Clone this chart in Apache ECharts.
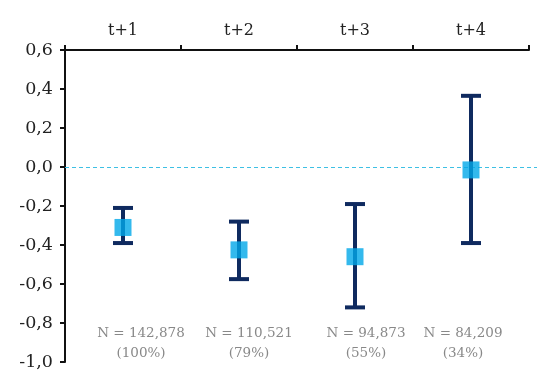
<!DOCTYPE html>
<html>
<head>
<meta charset="utf-8">
<script src="https://cdn.jsdelivr.net/npm/echarts@6/dist/echarts.min.js"></script>
<style>html,body{margin:0;padding:0;background:#fff}#c{width:560px;height:389px}</style>
</head>
<body>
<div id="c"></div>
<script>
var categories = ['t+1', 't+2', 't+3', 't+4'];
var means = [-0.31, -0.425, -0.46, -0.015];
var upper = [-0.21, -0.28, -0.19, 0.365];
var lower = [-0.39, -0.575, -0.72, -0.39];
var nLabels = ['N = 142,878', 'N = 110,521', 'N = 94,873', 'N = 84,209'];
var pctLabels = ['(100%)', '(79%)', '(55%)', '(34%)'];
var labelY = -0.905;
var labelShift = [18, 10, 11, -8];
var refValue = 0;

var font = 'DejaVu Serif';
var chart = echarts.init(document.getElementById('c'));
chart.setOption({
  animation: false,
  backgroundColor: '#fff',
  grid: { left: 65, right: 31, top: 50, bottom: 27 },
  xAxis: {
    type: 'category', position: 'top', data: categories,
    axisLine: { onZero: false, lineStyle: { color: '#111', width: 2 } },
    axisTick: { show: true, length: 5, lineStyle: { color: '#111', width: 2 } },
    axisLabel: { fontFamily: font, fontSize: 16, color: '#222', margin: 11 },
    splitLine: { show: false }
  },
  yAxis: {
    type: 'value', min: -1, max: 0.6, interval: 0.2,
    axisLine: { show: true, onZero: false, lineStyle: { color: '#111', width: 2 } },
    axisTick: { show: true, length: 5, lineStyle: { color: '#111', width: 2 } },
    axisLabel: { fontFamily: font, fontSize: 17.5, color: '#222', margin: 12,
      formatter: function (v) { return (Math.round(v * 10) / 10).toFixed(1).replace('.', ','); } },
    splitLine: { show: false }
  },
  series: [
    {
      type: 'custom',
      data: [[0, refValue]],
      renderItem: function (params, api) {
        var p = api.coord([0, api.value(1)]);
        var cs = params.coordSys;
        return { type: 'line', shape: { x1: cs.x, y1: Math.round(p[1]) + 0.5, x2: cs.x + cs.width + 8, y2: Math.round(p[1]) + 0.5 },
          style: { stroke: '#3ec0e4', lineWidth: 1, lineDash: [4, 3] } };
      },
      silent: true,
      z: 1
    },
    {
      type: 'custom',
      data: categories.map(function (c, i) { return [i, lower[i], upper[i]]; }),
      renderItem: function (params, api) {
        var lo = api.coord([api.value(0), api.value(1)]);
        var hi = api.coord([api.value(0), api.value(2)]);
        var w = 10;
        var st = { stroke: '#0f2a5f', lineWidth: 4 };
        return { type: 'group', children: [
          { type: 'line', shape: { x1: lo[0], y1: lo[1], x2: hi[0], y2: hi[1] }, style: st },
          { type: 'line', shape: { x1: lo[0] - w, y1: lo[1], x2: lo[0] + w, y2: lo[1] }, style: st },
          { type: 'line', shape: { x1: hi[0] - w, y1: hi[1], x2: hi[0] + w, y2: hi[1] }, style: st }
        ] };
      },
      z: 2
    },
    {
      type: 'scatter',
      data: means.map(function (m, i) { return [i, m]; }),
      symbol: 'rect', symbolSize: 17,
      itemStyle: { color: '#00a8e8' },
      z: 3
    },
    {
      type: 'scatter',
      symbolSize: 0,
      silent: true,
      data: categories.map(function (c, i) {
        return { value: [i, labelY], label: { offset: [labelShift[i], 0] } };
      }),
      label: {
        show: true, position: 'inside',
        fontFamily: font, fontSize: 13.5, color: '#6a6a6a', lineHeight: 20, align: 'center',
        formatter: function (p) { return nLabels[p.dataIndex] + '\n' + pctLabels[p.dataIndex]; }
      }
    }
  ]
});
</script>
</body>
</html>
